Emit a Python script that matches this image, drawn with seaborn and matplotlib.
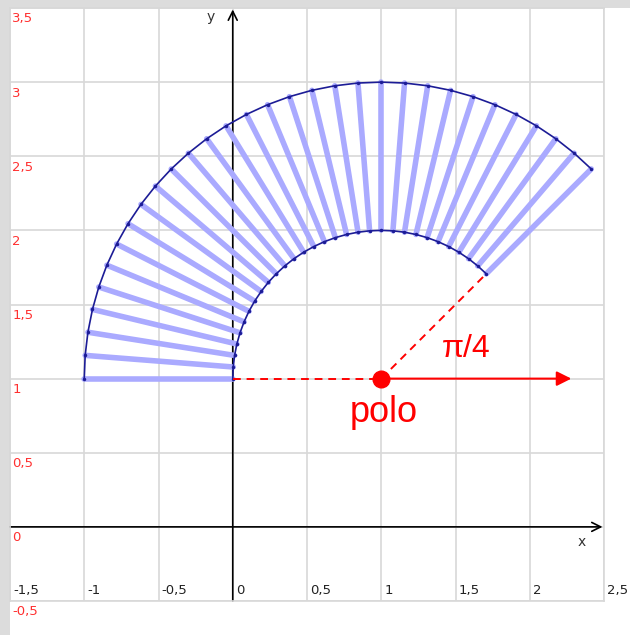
import matplotlib
matplotlib.use("Agg")
import matplotlib.pyplot as plt
from matplotlib.patches import Rectangle
import numpy as np
import pandas as pd
import seaborn as sns

# ---- data ----
angles_deg = [45, 49.5, 54, 58.5, 63, 67.5, 72, 76.5, 81, 85.5, 90, 94.5, 99,
              103.5, 108, 112.5, 117, 121.5, 126, 130.5, 135, 139.5, 144, 148.5,
              153, 157.5, 162, 166.5, 171, 175.5, 180]
r_inner = 1.0
r_outer = 2.0
pole = (1.0, 1.0)
ref_angle_deg = 45
x_ticks = [-1.5, -1, -0.5, 0, 0.5, 1, 1.5, 2, 2.5]
x_tick_labels = ["-1,5", "-1", "-0,5", "0", "0,5", "1", "1,5", "2", "2,5"]
y_ticks = [-0.5, 0, 0.5, 1, 1.5, 2, 2.5, 3, 3.5]
y_tick_labels = ["-0,5", "0", "0,5", "1", "1,5", "2", "2,5", "3", "3,5"]

sns.set_style("white")
plt.rcParams["font.family"] = ["DejaVu Sans"]

th = np.deg2rad(np.array(angles_deg))

# radial segments
rows = []
for i, t in enumerate(th):
    for r in (r_inner, r_outer):
        rows.append({"seg": i, "x": pole[0] + r * np.cos(t), "y": pole[1] + r * np.sin(t)})
seg_df = pd.DataFrame(rows)

arc_rows = []
for name, r in (("in", r_inner), ("out", r_outer)):
    for t in th:
        arc_rows.append({"arc": name, "x": pole[0] + r * np.cos(t), "y": pole[1] + r * np.sin(t)})
arc_df = pd.DataFrame(arc_rows)

W, H = 630, 635
fig = plt.figure(figsize=(W / 100, H / 100), dpi=100, facecolor="#dcdcdc")
fig.patches.append(Rectangle((10 / W, 0), 1, (H - 8) / H, transform=fig.transFigure,
                             facecolor="white", edgecolor="none", zorder=-10))
ax = fig.add_axes([10 / W, 34 / H, 594 / W, 593 / H])
ax.set_facecolor("white")
ax.set_xlim(-1.5, 2.5)
ax.set_ylim(-0.5, 3.5)
ax.set_xticks(x_ticks)
ax.set_yticks(y_ticks)
ax.set_xticklabels([])
ax.set_yticklabels([])
ax.tick_params(length=0)
ax.grid(True, color="#d8d8d8", lw=1.2)
for s in ax.spines.values():
    s.set_color("#d8d8d8")
    s.set_linewidth(1.2)

# coordinate axes with open arrow heads
ax.annotate("", xy=(0, 3.49), xytext=(0, -0.5),
            arrowprops=dict(arrowstyle="->", color="black", lw=1.2, mutation_scale=16,
                            shrinkA=0, shrinkB=0), annotation_clip=False, zorder=2)
ax.annotate("", xy=(2.49, 0), xytext=(-1.5, 0),
            arrowprops=dict(arrowstyle="->", color="black", lw=1.2, mutation_scale=16,
                            shrinkA=0, shrinkB=0), annotation_clip=False, zorder=2)
ax.text(-0.15, 3.44, "y", fontsize=10, color="#333333", ha="center", va="center")
ax.text(2.35, -0.1, "x", fontsize=10, color="#333333", ha="center", va="center")

# tick labels
for v, lab in zip(x_ticks, x_tick_labels):
    ax.text(v + 0.02, -0.43, lab, fontsize=9.5, color="#222222", ha="left", va="center",
            clip_on=False)
for v, lab in zip(y_ticks, y_tick_labels):
    ax.text(-1.485, v - 0.03, lab, fontsize=9.5, color="#ff3030", ha="left", va="top",
            clip_on=False)

# radial lines
sns.lineplot(data=seg_df, x="x", y="y", units="seg", estimator=None, sort=False,
             color="#aaaaff", lw=4, ax=ax, zorder=3, legend=False)
# arcs
sns.lineplot(data=arc_df, x="x", y="y", units="arc", estimator=None, sort=False,
             color="#1c1c96", lw=1.2, marker="o", markersize=2.5, markeredgewidth=0,
             ax=ax, zorder=4, legend=False)
ax.set_xlabel("")
ax.set_ylabel("")

# red construction
ax.plot([0, pole[0]], [pole[1], pole[1]], color="red", lw=1.4, ls=(0, (4, 3)), zorder=5)
ra = np.deg2rad(ref_angle_deg)
ax.plot([pole[0], pole[0] + r_inner * np.cos(ra)], [pole[1], pole[1] + r_inner * np.sin(ra)],
        color="red", lw=1.4, ls=(0, (4, 3)), zorder=5)
ax.annotate("", xy=(2.28, pole[1]), xytext=pole,
            arrowprops=dict(arrowstyle="-|>", color="red", lw=1.5, mutation_scale=22,
                            shrinkA=0, shrinkB=0), zorder=5)
ax.plot([pole[0]], [pole[1]], "o", color="red", ms=12, zorder=6)
ax.text(1.57, 1.2, "π/4", fontsize=23, color="red", ha="center", va="center",
        family=["Liberation Sans", "DejaVu Sans"])
ax.text(1.02, 0.77, "polo", fontsize=26, color="red", ha="center", va="center",
        family=["Liberation Sans", "DejaVu Sans"])

fig.savefig("out.png", dpi=100, facecolor=fig.get_facecolor())
